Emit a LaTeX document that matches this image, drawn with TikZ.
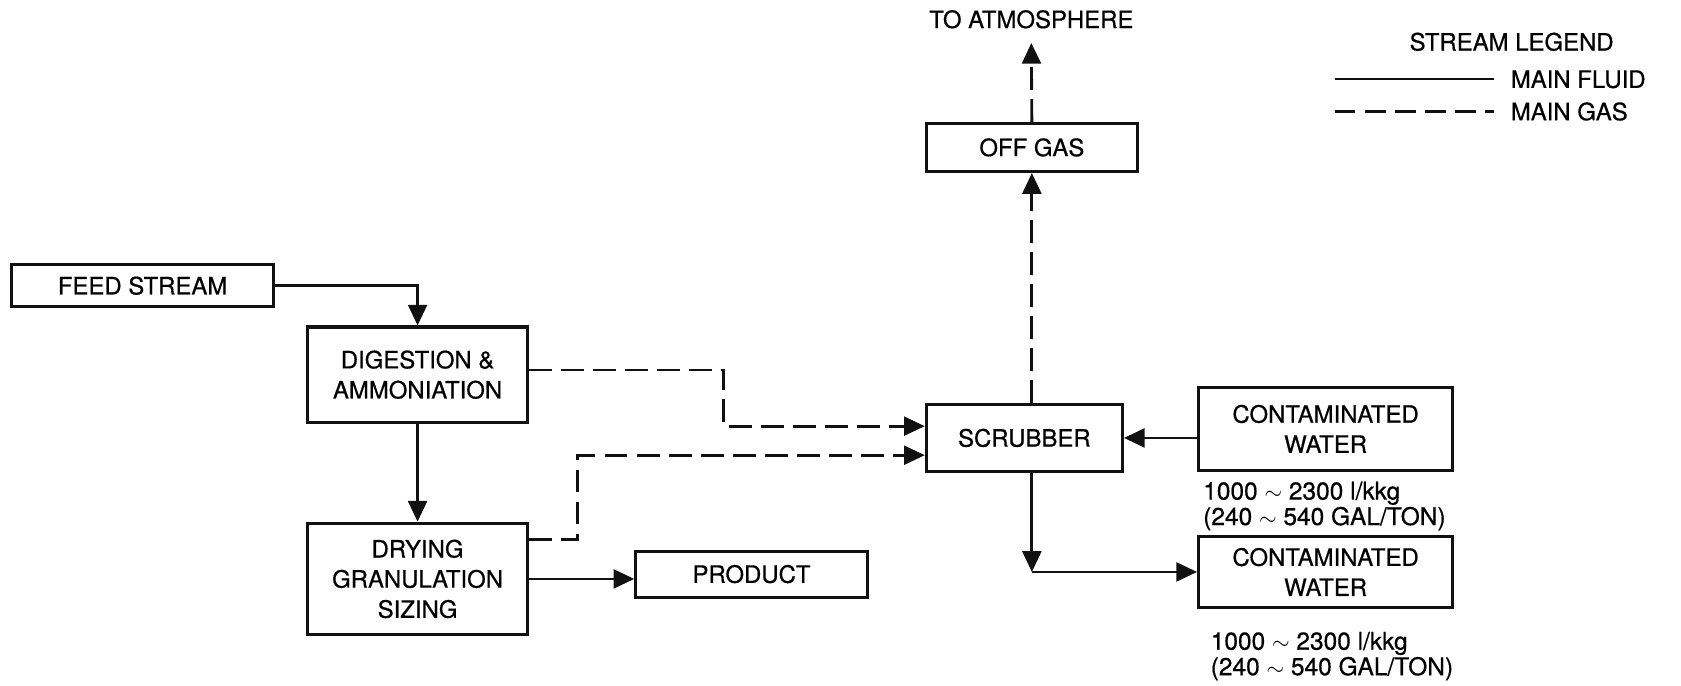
\documentclass[tikz,border=0pt]{standalone}
\usepackage{fontspec}
\setmainfont[FakeBold=0.6]{TeX Gyre Heros}
\usepackage{xcolor}
\usetikzlibrary{positioning,arrows.meta}
\definecolor{ink}{HTML}{111111}
\tikzset{
  unit/.style ={draw=ink, line width=1.6pt, align=center, inner sep=0pt, font=\fontsize{12.7}{16}\selectfont},
  lbl/.style  ={inner sep=0pt, font=\fontsize{12.7}{16}\selectfont},
  rate/.style ={align=left, anchor=west, inner sep=0pt, font=\fontsize{13}{12.5}\selectfont},
  flow/.style ={draw=ink, line width=1.5pt, -{Triangle[length=11pt,width=10pt]}},
  gas/.style  ={flow, dash pattern=on 12pt off 5pt},
  keyline/.style={draw=ink, line width=1.1pt},
  keygas/.style ={keyline, dash pattern=on 11pt off 5pt},
}

\begin{document}
\begin{tikzpicture}[x=0.02cm,y=-0.02cm]
\useasboundingbox (0,0) rectangle (1568,639);

\node[unit, minimum width=4.88cm, minimum height=0.78cm] (feed)    at (133,266.5)  {FEED STREAM};
\node[unit, minimum width=4.10cm, minimum height=1.78cm] (dig)     at (389.5,349.5) {DIGESTION \&\\AMMONIATION};
\node[unit, minimum width=4.10cm, minimum height=2.08cm] (dry)     at (389.5,540)  {DRYING\\GRANULATION\\SIZING};
\node[unit, minimum width=4.32cm, minimum height=0.86cm] (product) at (701,535.5)  {PRODUCT};
\node[unit, minimum width=3.66cm, minimum height=1.26cm] (scrub)   at (955.5,408.5) {SCRUBBER};
\node[unit, minimum width=3.94cm, minimum height=0.90cm] (offgas)  at (962.5,137.5) {OFF GAS};
\node[unit, minimum width=4.74cm, minimum height=1.56cm] (cw1)     at (1236.5,400) {CONTAMINATED\\WATER};
\node[unit, minimum width=4.74cm, minimum height=1.34cm] (cw2)     at (1236.5,533.5) {CONTAMINATED\\WATER};

\node[lbl, inner ysep=7.5pt] (atmo) at (962,18) {TO ATMOSPHERE};
\node[rate] (rate1) at (1122,472) {1000 $\sim$ 2300 l/kkg\\(240 $\sim$ 540 GAL/TON)};
\node[rate] (rate2) at (1129,612) {1000 $\sim$ 2300 l/kkg\\(240 $\sim$ 540 GAL/TON)};

\coordinate (k1) at (675,397.5);
\coordinate (k2) at (539,424.6);
\coordinate (turn) at (offgas |- cw2.west);

\draw[flow] (feed.east) -| (dig.north);
\draw[flow] (dig.south) -- (dry.north);
\draw[flow] (dry.east) -- (dry.east -| product.west);
\draw[gas] ([yshift=2.5pt]dig.east) -| (k1) -- (k1 -| scrub.west);
\draw[gas] ([yshift=21pt]dry.east) -| (k2) -- (k2 -| scrub.west);
\draw[flow] (cw1.west |- scrub.east) -- (scrub.east);
\draw[gas] (scrub.north -| offgas) -- (offgas.south);
\draw[gas] (offgas.north) -- (atmo.south);
\draw[flow] (scrub.south -| turn) -- (turn);
\draw[flow] (turn) -- (cw2.west);

\node[lbl] (legend) at (1410,39) {STREAM LEGEND};
\node[lbl, anchor=west, inner xsep=8.5pt] (fluid) at (1394,74) {MAIN FLUID};
\node[lbl, anchor=west, inner xsep=8.5pt] (gaskey) at (1394,104) {MAIN GAS};
\coordinate (lg1) at (1245,74);
\coordinate (lg2) at (1245,104);
\draw[keyline] (lg1) -- (fluid.west);
\draw[keygas] (lg2) -- (gaskey.west);
\end{tikzpicture}
\end{document}
